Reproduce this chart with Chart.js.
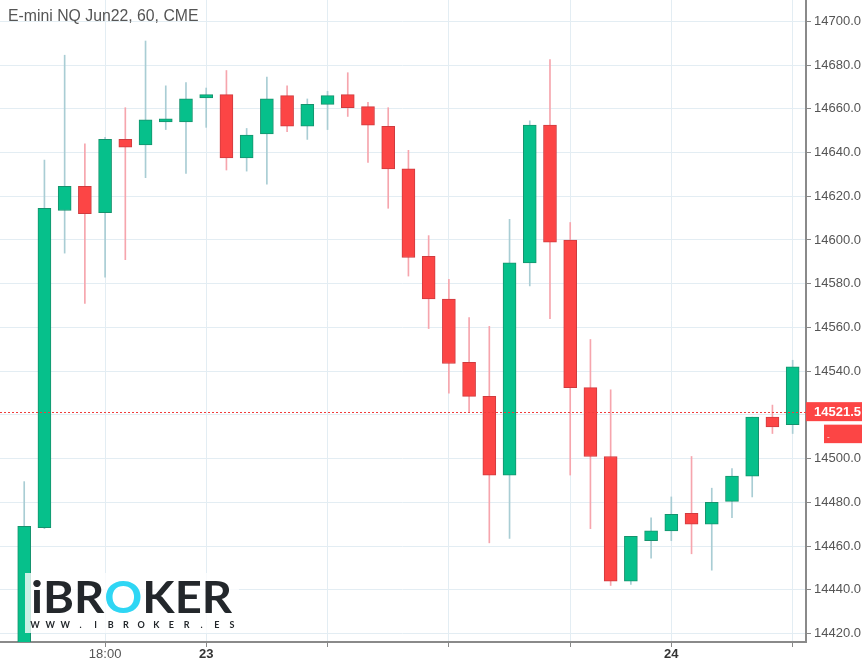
<!DOCTYPE html>
<html>
<head>
<meta charset="utf-8">
<script src="https://cdn.jsdelivr.net/npm/chart.js@4/dist/chart.umd.min.js"></script>
<style>
  html, body { margin: 0; padding: 0; background: #ffffff; }
  #wrap { position: relative; width: 862px; height: 660px; }
  canvas { display: block; }
</style>
</head>
<body>
<div id="wrap"><canvas id="c" width="862" height="660"></canvas></div>
<script>
// ---- data (hourly candles, E-mini NQ Jun22) ----
const opens  = [14415, 14468.5, 14613.5, 14624.5, 14612.5, 14646, 14643.5, 14654, 14654, 14665, 14666.5, 14637.5, 14648.5, 14666, 14652, 14662, 14666.5, 14661, 14652, 14632.5, 14592.5, 14573, 14544, 14528.5, 14492.5, 14589.5, 14652.5, 14600, 14532.5, 14501, 14444, 14462.5, 14467, 14475, 14470, 14480.5, 14492, 14519, 14515.5];
const highs  = [14489.5, 14636.5, 14684.5, 14644, 14647, 14660.5, 14691, 14670.5, 14672, 14669.5, 14677.5, 14651, 14674.5, 14670.5, 14664.5, 14668, 14676.5, 14663, 14660.5, 14641, 14602, 14582, 14564.5, 14560.5, 14609.5, 14654.5, 14682.5, 14608, 14554.5, 14531.5, 14464.5, 14473, 14482.5, 14501, 14486.5, 14495.5, 14519, 14524.5, 14545];
const lows   = [14410, 14468, 14594, 14571, 14583, 14591, 14628.5, 14650.5, 14630.5, 14651.5, 14632, 14631.5, 14625.5, 14649.5, 14646, 14650.5, 14656.5, 14635.5, 14614.5, 14583.5, 14559.5, 14530, 14521, 14461.5, 14463.5, 14579, 14564, 14492.5, 14468, 14442, 14442.5, 14454.5, 14462.5, 14456.5, 14449, 14473, 14482.5, 14511.5, 14511.5];
const closes = [14469, 14614.5, 14624.5, 14612, 14646, 14642.5, 14655, 14654.5, 14664.5, 14666.5, 14637.5, 14648, 14664.5, 14652, 14662, 14666, 14660.5, 14652.5, 14632.5, 14592, 14573, 14543.5, 14528.5, 14492.5, 14589.5, 14652.5, 14599, 14532.5, 14501, 14444, 14464.5, 14467, 14474.5, 14470, 14480, 14492, 14519, 14514.5, 14542];
const xTickIndex  = [4, 9, 15, 21, 27, 32, 38];
const xTickLabels = ["18:00", "23", "", "", "", "24", ""];
const yTicks = [14420, 14440, 14460, 14480, 14500, 14520, 14540, 14560, 14580, 14600, 14620, 14640, 14660, 14680, 14700];
const lastPrice = 14521.5;
const title = "E-mini NQ Jun22, 60, CME";

// ---- styles ----
const UP = '#06c08b', UP_B = '#16926d', UP_W = '#a9cdd4';
const DN = '#fc4545', DN_B = '#cf3b3f', DN_W = '#f6a5ad';
const GRID = '#e3edf3';
const FONT = "'Liberation Sans', Arial, sans-serif";

const isUp = closes.map((c, i) => c >= opens[i]);
const bodyData = closes.map((c, i) => ({ x: i, y: [opens[i], c] }));
const wickData = closes.map((c, i) => ({ x: i, y: [lows[i], highs[i]] }));

function noPad(s) { s.paddingTop = 0; s.paddingBottom = 0; s.paddingLeft = 0; s.paddingRight = 0; }

const overlay = {
  id: 'overlay',
  afterDatasetsDraw(chart) {
    const { ctx, chartArea, scales } = chart;
    const y = Math.round(scales.y.getPixelForValue(lastPrice)) + 0.5;
    ctx.save();
    ctx.strokeStyle = '#f03c3c';
    ctx.lineWidth = 1;
    ctx.setLineDash([2, 2]);
    ctx.beginPath();
    ctx.moveTo(chartArea.left, y);
    ctx.lineTo(chartArea.right, y);
    ctx.stroke();
    ctx.restore();
  },
  afterDraw(chart) {
    const { ctx, chartArea, scales } = chart;
    const y = scales.y.getPixelForValue(lastPrice);
    ctx.save();
    // price label
    ctx.fillStyle = '#fc4545';
    ctx.fillRect(chartArea.right, y - 9.5, 862 - chartArea.right, 19);
    ctx.fillRect(824, y + 13, 38, 18.5);
    ctx.fillStyle = '#ffffff';
    ctx.font = "bold 13px " + FONT;
    ctx.textBaseline = 'middle';
    ctx.textAlign = 'left';
    ctx.fillText(lastPrice.toFixed(1), 814, y + 0.5);
    ctx.font = "8px " + FONT;
    ctx.fillText('-', 827, y + 25);

    // title
    ctx.fillStyle = '#555555';
    ctx.font = "15.8px " + FONT;
    ctx.textBaseline = 'alphabetic';
    ctx.fillText(title, 8, 21);

    // watermark logo
    ctx.fillStyle = 'rgba(255,255,255,0.78)';
    ctx.fillRect(25, 573, 214, 60);
    const parts = [['i', '#23272b'], ['BR', '#23272b'], ['O', '#2fd6f4'], ['KER', '#23272b']];
    ctx.font = "bold 44px Lato, 'Open Sans', sans-serif";
    let total = 0;
    parts.forEach(p => total += ctx.measureText(p[0]).width);
    const sx = 201 / total;
    ctx.save();
    ctx.translate(31, 613);
    ctx.scale(sx, 1);
    let px = 0;
    parts.forEach(p => {
      ctx.fillStyle = p[1];
      ctx.fillText(p[0], px, 0);
      px += ctx.measureText(p[0]).width;
    });
    ctx.restore();
    const small = "WWW.IBROKER.ES".split('');
    ctx.font = "bold 9px Lato, 'Open Sans', sans-serif";
    ctx.fillStyle = '#23272b';
    ctx.textAlign = 'center';
    const step = (232 - 35) / (small.length - 1);
    small.forEach((ch, i) => ctx.fillText(ch, 35 + i * step, 628));
    ctx.restore();
  }
};

new Chart(document.getElementById('c'), {
  type: 'bar',
  data: {
    datasets: [
      {
        data: wickData,
        backgroundColor: isUp.map(u => u ? UP_W : DN_W),
        borderWidth: 0,
        barThickness: 1,
        grouped: false,
        order: 2
      },
      {
        data: bodyData,
        backgroundColor: isUp.map(u => u ? UP : DN),
        borderColor: isUp.map(u => u ? UP_B : DN_B),
        borderWidth: 1,
        borderSkipped: false,
        barThickness: 13,
        minBarLength: 3,
        grouped: false,
        order: 1
      }
    ]
  },
  options: {
    responsive: false,
    animation: false,
    events: [],
    layout: { padding: 0, autoPadding: false },
    plugins: { legend: { display: false }, tooltip: { enabled: false }, title: { display: false } },
    scales: {
      x: {
        type: 'linear',
        position: 'bottom',
        min: -1.197,
        max: 38.66,
        offset: false,
        afterBuildTicks: (s) => { s.ticks = xTickIndex.map(v => ({ value: v })); },
        afterFit: (s) => { s.height = 18; noPad(s); },
        grid: { offset: false, color: GRID, lineWidth: 1, tickLength: 5, tickColor: '#888888', drawTicks: true },
        border: { display: true, color: '#8a8a8a', width: 2 },
        ticks: {
          autoSkip: false,
          maxRotation: 0,
          padding: 0,
          callback: (v) => { const k = xTickIndex.indexOf(v); return k >= 0 ? xTickLabels[k] : ''; },
          color: (c) => (c.tick && (c.tick.value === 9 || c.tick.value === 32)) ? '#333333' : '#555555',
          font: (c) => ({ family: FONT, size: 13, weight: (c.tick && (c.tick.value === 9 || c.tick.value === 32)) ? 'bold' : 'normal' })
        }
      },
      y: {
        type: 'linear',
        position: 'right',
        min: 14416.16,
        max: 14709.75,
        afterBuildTicks: (s) => { s.ticks = yTicks.map(v => ({ value: v })); },
        afterFit: (s) => { s.width = 56; noPad(s); },
        grid: { color: GRID, lineWidth: 1, tickLength: 5, tickColor: '#888888', drawTicks: true },
        border: { display: true, color: '#8a8a8a', width: 2 },
        ticks: {
          padding: 3,
          color: '#555555',
          font: { family: FONT, size: 13 },
          callback: (v) => Number(v).toFixed(1)
        }
      }
    }
  },
  plugins: [overlay]
});
</script>
</body>
</html>
